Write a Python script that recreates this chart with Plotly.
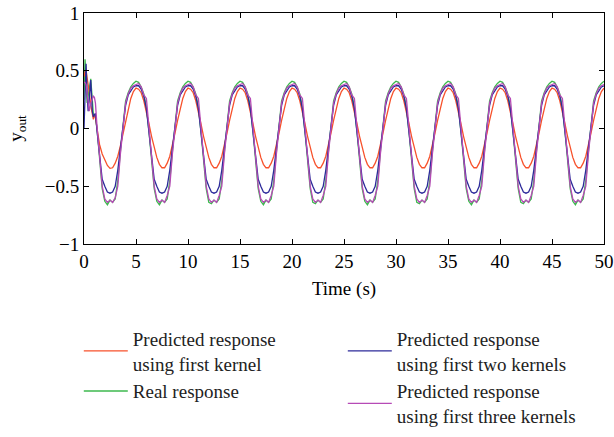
import numpy as np
import plotly.graph_objects as go

# time samples: fine at the start (transient), then every 0.25 s
t_head = [0, 0.1, 0.2, 0.3, 0.4, 0.5, 0.65, 0.8, 0.9, 1.0, 1.1, 1.25]
t = list(t_head) + list(np.round(np.arange(1.5, 50.001, 0.25), 3))

red_vals = (
    [0.45, 0.49, 0.50, 0.45, 0.39, 0.32, 0.20, 0.10, 0.08, 0.11, 0.10, 0.00]
    + [-0.14, -0.22, -0.27, -0.32, -0.345, -0.34, -0.30, -0.24, -0.15, -0.04, 0.07, 0.17, 0.26, 0.32]
    + [0.35, 0.34, 0.31, 0.24, 0.15, 0.04, -0.07, -0.17, -0.25, -0.31, -0.34, -0.34, -0.30, -0.24, -0.15, -0.04, 0.07, 0.17, 0.26, 0.32]
    + [0.35, 0.34, 0.31, 0.24, 0.15, 0.04, -0.07, -0.17, -0.25, -0.31, -0.34, -0.34, -0.30, -0.24, -0.15, -0.04, 0.07, 0.17, 0.26, 0.32]
    + [0.35, 0.34, 0.31, 0.24, 0.15, 0.04, -0.07, -0.17, -0.25, -0.31, -0.34, -0.34, -0.30, -0.24, -0.15, -0.04, 0.07, 0.17, 0.26, 0.32]
    + [0.35, 0.34, 0.31, 0.24, 0.15, 0.04, -0.07, -0.17, -0.25, -0.31, -0.34, -0.34, -0.30, -0.24, -0.15, -0.04, 0.07, 0.17, 0.26, 0.32]
    + [0.35, 0.34, 0.31, 0.24, 0.15, 0.04, -0.07, -0.17, -0.25, -0.31, -0.34, -0.34, -0.30, -0.24, -0.15, -0.04, 0.07, 0.17, 0.26, 0.32]
    + [0.35, 0.34, 0.31, 0.24, 0.15, 0.04, -0.07, -0.17, -0.25, -0.31, -0.34, -0.34, -0.30, -0.24, -0.15, -0.04, 0.07, 0.17, 0.26, 0.32]
    + [0.35, 0.34, 0.31, 0.24, 0.15, 0.04, -0.07, -0.17, -0.25, -0.31, -0.34, -0.34, -0.30, -0.24, -0.15, -0.04, 0.07, 0.17, 0.26, 0.32]
    + [0.35, 0.34, 0.31, 0.24, 0.15, 0.04, -0.07, -0.17, -0.25, -0.31, -0.34, -0.34, -0.30, -0.24, -0.15, -0.04, 0.07, 0.17, 0.26, 0.32]
    + [0.35, 0.34, 0.31, 0.24, 0.15, 0.04, -0.07, -0.17, -0.25, -0.31, -0.34, -0.34, -0.30, -0.24, -0.15, -0.04, 0.07, 0.17, 0.26, 0.32]
    + [0.35]
)

green_vals = (
    [0.25, 0.60, 0.45, 0.22, 0.28, 0.36, 0.43, 0.25, 0.12, 0.12, 0.10, 0.00]
    + [-0.28, -0.52, -0.63, -0.66, -0.62, -0.64, -0.61, -0.45, -0.20, 0.00, 0.24, 0.31, 0.36, 0.39]
    + [0.41, 0.40, 0.36, 0.30, 0.18, -0.03, -0.28, -0.52, -0.63, -0.66, -0.62, -0.64, -0.61, -0.45, -0.20, 0.00, 0.24, 0.31, 0.36, 0.39]
    + [0.41, 0.40, 0.36, 0.30, 0.18, -0.03, -0.28, -0.52, -0.64, -0.65, -0.62, -0.64, -0.61, -0.45, -0.20, 0.00, 0.24, 0.31, 0.36, 0.39]
    + [0.41, 0.40, 0.36, 0.30, 0.18, -0.03, -0.28, -0.52, -0.63, -0.66, -0.62, -0.64, -0.61, -0.45, -0.20, 0.00, 0.24, 0.31, 0.36, 0.39]
    + [0.41, 0.40, 0.36, 0.30, 0.18, -0.03, -0.28, -0.52, -0.64, -0.65, -0.62, -0.64, -0.61, -0.45, -0.20, 0.00, 0.24, 0.31, 0.36, 0.39]
    + [0.41, 0.40, 0.36, 0.30, 0.18, -0.03, -0.28, -0.52, -0.63, -0.66, -0.62, -0.64, -0.61, -0.45, -0.20, 0.00, 0.24, 0.31, 0.36, 0.39]
    + [0.41, 0.40, 0.36, 0.30, 0.18, -0.03, -0.28, -0.52, -0.64, -0.65, -0.62, -0.64, -0.61, -0.45, -0.20, 0.00, 0.24, 0.31, 0.36, 0.39]
    + [0.41, 0.40, 0.36, 0.30, 0.18, -0.03, -0.28, -0.52, -0.63, -0.66, -0.62, -0.64, -0.61, -0.45, -0.20, 0.00, 0.24, 0.31, 0.36, 0.39]
    + [0.41, 0.40, 0.36, 0.30, 0.18, -0.03, -0.28, -0.52, -0.64, -0.65, -0.62, -0.64, -0.61, -0.45, -0.20, 0.00, 0.24, 0.31, 0.36, 0.39]
    + [0.41, 0.40, 0.36, 0.30, 0.18, -0.03, -0.28, -0.52, -0.63, -0.66, -0.62, -0.64, -0.61, -0.45, -0.20, 0.00, 0.24, 0.31, 0.36, 0.39]
    + [0.41]
)

blue_vals = (
    [0.00, 0.35, 0.56, 0.30, 0.15, 0.25, 0.42, 0.15, 0.10, 0.12, 0.13, -0.02]
    + [-0.24, -0.44, -0.50, -0.55, -0.56, -0.55, -0.50, -0.36, -0.17, 0.02, 0.20, 0.29, 0.33, 0.36]
    + [0.37, 0.37, 0.34, 0.28, 0.17, -0.02, -0.24, -0.44, -0.50, -0.55, -0.56, -0.55, -0.50, -0.36, -0.17, 0.02, 0.20, 0.29, 0.33, 0.36]
    + [0.37, 0.37, 0.34, 0.28, 0.17, -0.02, -0.24, -0.44, -0.50, -0.55, -0.56, -0.55, -0.50, -0.36, -0.17, 0.02, 0.20, 0.29, 0.33, 0.36]
    + [0.37, 0.37, 0.34, 0.28, 0.17, -0.02, -0.24, -0.44, -0.50, -0.55, -0.56, -0.55, -0.50, -0.36, -0.17, 0.02, 0.20, 0.29, 0.33, 0.36]
    + [0.37, 0.37, 0.34, 0.28, 0.17, -0.02, -0.24, -0.44, -0.50, -0.55, -0.56, -0.55, -0.50, -0.36, -0.17, 0.02, 0.20, 0.29, 0.33, 0.36]
    + [0.37, 0.37, 0.34, 0.28, 0.17, -0.02, -0.24, -0.44, -0.50, -0.55, -0.56, -0.55, -0.50, -0.36, -0.17, 0.02, 0.20, 0.29, 0.33, 0.36]
    + [0.37, 0.37, 0.34, 0.28, 0.17, -0.02, -0.24, -0.44, -0.50, -0.55, -0.56, -0.55, -0.50, -0.36, -0.17, 0.02, 0.20, 0.29, 0.33, 0.36]
    + [0.37, 0.37, 0.34, 0.28, 0.17, -0.02, -0.24, -0.44, -0.50, -0.55, -0.56, -0.55, -0.50, -0.36, -0.17, 0.02, 0.20, 0.29, 0.33, 0.36]
    + [0.37, 0.37, 0.34, 0.28, 0.17, -0.02, -0.24, -0.44, -0.50, -0.55, -0.56, -0.55, -0.50, -0.36, -0.17, 0.02, 0.20, 0.29, 0.33, 0.36]
    + [0.37, 0.37, 0.34, 0.28, 0.17, -0.02, -0.24, -0.44, -0.50, -0.55, -0.56, -0.55, -0.50, -0.36, -0.17, 0.02, 0.20, 0.29, 0.33, 0.36]
    + [0.37]
)

magenta_vals = (
    [0.40, 0.40, 0.38, 0.30, 0.18, 0.15, 0.22, 0.27, 0.28, 0.27, 0.22, 0.02]
    + [-0.26, -0.50, -0.61, -0.64, -0.62, -0.64, -0.60, -0.50, -0.22, 0.00, 0.22, 0.30, 0.35, 0.37]
    + [0.38, 0.39, 0.36, 0.29, 0.26, 0.02, -0.26, -0.50, -0.61, -0.64, -0.62, -0.64, -0.58, -0.50, -0.22, 0.00, 0.22, 0.30, 0.35, 0.37]
    + [0.38, 0.39, 0.36, 0.29, 0.26, 0.02, -0.26, -0.50, -0.61, -0.64, -0.62, -0.64, -0.58, -0.50, -0.22, 0.00, 0.22, 0.30, 0.35, 0.37]
    + [0.38, 0.39, 0.36, 0.29, 0.26, 0.02, -0.26, -0.50, -0.61, -0.64, -0.62, -0.64, -0.58, -0.50, -0.22, 0.00, 0.22, 0.30, 0.35, 0.37]
    + [0.38, 0.39, 0.36, 0.29, 0.26, 0.02, -0.26, -0.50, -0.61, -0.64, -0.62, -0.64, -0.58, -0.50, -0.22, 0.00, 0.22, 0.30, 0.35, 0.37]
    + [0.38, 0.39, 0.36, 0.29, 0.26, 0.02, -0.26, -0.50, -0.61, -0.64, -0.62, -0.64, -0.58, -0.50, -0.22, 0.00, 0.22, 0.30, 0.35, 0.37]
    + [0.38, 0.39, 0.36, 0.29, 0.26, 0.02, -0.26, -0.50, -0.61, -0.64, -0.62, -0.64, -0.58, -0.50, -0.22, 0.00, 0.22, 0.30, 0.35, 0.37]
    + [0.38, 0.39, 0.36, 0.29, 0.26, 0.02, -0.26, -0.50, -0.61, -0.64, -0.62, -0.64, -0.58, -0.50, -0.22, 0.00, 0.22, 0.30, 0.35, 0.37]
    + [0.38, 0.39, 0.36, 0.29, 0.26, 0.02, -0.26, -0.50, -0.61, -0.64, -0.62, -0.64, -0.58, -0.50, -0.22, 0.00, 0.22, 0.30, 0.35, 0.37]
    + [0.38, 0.39, 0.36, 0.29, 0.26, 0.02, -0.26, -0.50, -0.61, -0.64, -0.62, -0.64, -0.58, -0.50, -0.22, 0.00, 0.22, 0.30, 0.35, 0.37]
    + [0.38]
)

names = {
    "red": "Predicted response<br>using first kernel",
    "blue": "Predicted response<br>using first two kernels",
    "green": "Real response",
    "magenta": "Predicted response<br>using first three kernels",
}
x_ticks = [0, 5, 10, 15, 20, 25, 30, 35, 40, 45, 50]
y_ticks = [-1, -0.5, 0, 0.5, 1]

FONT = "Liberation Serif"
fig = go.Figure()
# drawing order: green, red, blue, magenta; legend order via legendrank
fig.add_trace(go.Scatter(x=t, y=green_vals, mode="lines", name=names["green"],
                         line=dict(color="#3db84e", width=1.3), legendrank=3))
fig.add_trace(go.Scatter(x=t, y=red_vals, mode="lines", name=names["red"],
                         line=dict(color="#f7512b", width=1.3), legendrank=1))
fig.add_trace(go.Scatter(x=t, y=blue_vals, mode="lines", name=names["blue"],
                         line=dict(color="#2c2a9a", width=1.3), legendrank=2))
fig.add_trace(go.Scatter(x=t, y=magenta_vals, mode="lines", name=names["magenta"],
                         line=dict(color="#b64ab6", width=1.3), legendrank=4))

axis_common = dict(
    showline=True, linecolor="black", linewidth=1, mirror="ticks",
    ticks="inside", ticklen=5, tickcolor="black", tickwidth=1,
    showgrid=False, zeroline=False,
    tickfont=dict(family=FONT, size=19, color="black"),
)
fig.update_xaxes(range=[0, 50], tickvals=x_ticks,
                 title=dict(text="Time (s)", font=dict(family=FONT, size=19, color="black"), standoff=10),
                 **axis_common)
fig.update_yaxes(range=[-1, 1], tickvals=y_ticks,
                 title=dict(text="y<sub>out</sub>", font=dict(family=FONT, size=19, color="black"), standoff=17),
                 **axis_common)

fig.update_layout(
    width=614, height=437,
    margin=dict(l=84, r=10, t=13, b=193, autoexpand=False),
    paper_bgcolor="white", plot_bgcolor="white",
    font=dict(family=FONT, size=19, color="black"),
    showlegend=True,
    legend=dict(
        orientation="h", x=-0.01, xanchor="left", y=-0.328, yanchor="top",
        entrywidth=205, entrywidthmode="pixels", itemwidth=44,
        font=dict(family=FONT, size=19, color="#222"),
        bgcolor="rgba(0,0,0,0)", traceorder="normal",
    ),
)
fig.write_html("out.html", config={"displayModeBar": False},
               post_script="document.body.style.margin='0px';")
